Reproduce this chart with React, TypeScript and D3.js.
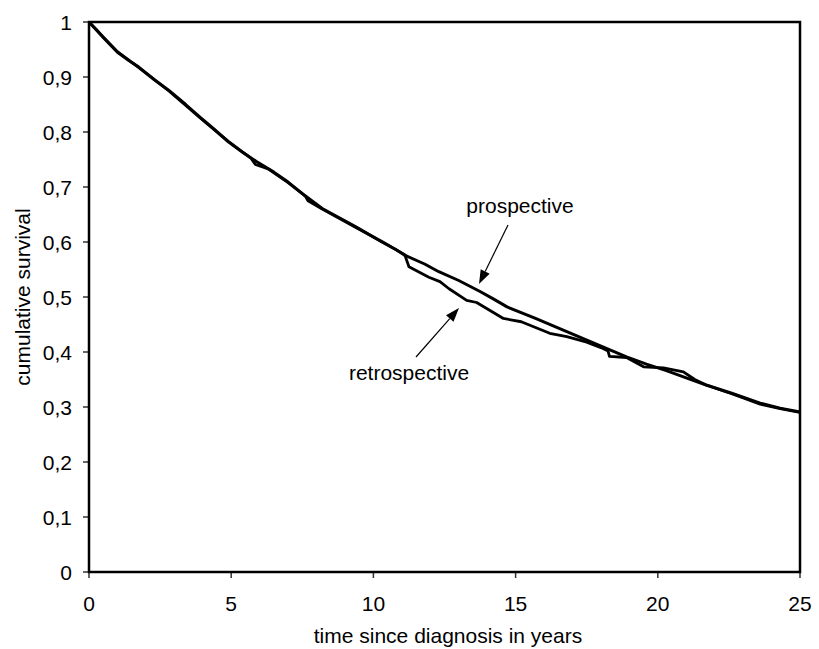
import React from 'react';
import * as d3 from 'd3';

// survival curves (time in years, cumulative survival)
const prospectiveTime = [0, 0.25, 0.5, 1, 1.4, 1.75, 2.3, 2.8, 3.4, 3.9, 4.4, 4.9, 5.4, 5.9, 6.5, 7, 7.6, 8.2, 8.8, 9.4, 10.3, 10.8, 11.1, 11.8, 12.3, 13.0, 13.75, 14.2, 14.7, 15.7, 16.8, 17.9, 18.9, 19.6, 20.3, 21.0, 21.7, 22.6, 23.6, 24.3, 25];
const prospectiveValue = [1, 0.986, 0.972, 0.945, 0.93, 0.918, 0.895, 0.876, 0.85, 0.827, 0.805, 0.782, 0.763, 0.746, 0.727, 0.709, 0.684, 0.661, 0.644, 0.627, 0.6, 0.586, 0.576, 0.56, 0.546, 0.53, 0.51, 0.497, 0.482, 0.461, 0.437, 0.413, 0.391, 0.378, 0.366, 0.353, 0.34, 0.325, 0.307, 0.298, 0.291];

const retrospectiveTime = [0, 0.25, 0.5, 1, 1.75, 2.8, 3.9, 4.9, 5.7, 5.85, 6.3, 7, 7.6, 7.7, 8.2, 9.4, 10.3, 11.1, 11.25, 11.95, 12.34, 12.66, 13.28, 13.63, 14.57, 15.2, 16.2, 16.8, 17.5, 18.0, 18.25, 18.3, 18.9, 19.5, 20.2, 20.9, 21.3, 21.7, 22.6, 23.6, 24.3, 25];
const retrospectiveValue = [1, 0.987, 0.973, 0.946, 0.917, 0.875, 0.826, 0.783, 0.752, 0.741, 0.733, 0.708, 0.684, 0.675, 0.66, 0.626, 0.601, 0.577, 0.555, 0.536, 0.528, 0.515, 0.494, 0.49, 0.461, 0.455, 0.434, 0.428, 0.418, 0.408, 0.402, 0.392, 0.39, 0.373, 0.371, 0.364, 0.35, 0.34, 0.324, 0.305, 0.297, 0.29];

const xTicks = [0, 5, 10, 15, 20, 25];
const yTicks = [0, 0.1, 0.2, 0.3, 0.4, 0.5, 0.6, 0.7, 0.8, 0.9, 1];

const font = "'Liberation Sans', Arial, sans-serif";

export default function App() {
  const width = 819, height = 649;
  const plot = { left: 89, right: 800, top: 22, bottom: 572 };

  const x = d3.scaleLinear().domain([0, 25]).range([plot.left, plot.right]);
  const y = d3.scaleLinear().domain([0, 1]).range([plot.bottom, plot.top]);

  const line = d3.line<[number, number]>()
    .x(d => x(d[0]))
    .y(d => y(d[1]));

  const prospective = prospectiveTime.map((t, i) => [t, prospectiveValue[i]] as [number, number]);
  const retrospective = retrospectiveTime.map((t, i) => [t, retrospectiveValue[i]] as [number, number]);

  const fmt = (v: number) => d3.format('.1~f')(v).replace('.', ',');

  // arrow helper: line from (x1,y1) to tip (x2,y2) with a filled head
  const arrow = (x1: number, y1: number, x2: number, y2: number) => {
    const a = Math.atan2(y2 - y1, x2 - x1);
    const len = 14, w = 5;
    const bx = x2 - len * Math.cos(a), by = y2 - len * Math.sin(a);
    const head = `M${x2},${y2}L${bx + w * Math.sin(a)},${by - w * Math.cos(a)}L${bx - w * Math.sin(a)},${by + w * Math.cos(a)}Z`;
    return (
      <g>
        <line x1={x1} y1={y1} x2={bx} y2={by} stroke="#000" strokeWidth={1.2} />
        <path d={head} fill="#000" />
      </g>
    );
  };

  return (
    <svg width={width} height={height} style={{ position: 'absolute', left: 0, top: 0, background: '#fff' }} fontFamily={font}>
      {/* y ticks */}
      {yTicks.map(t => (
        <g key={'y' + t}>
          <line x1={plot.left - 6} x2={plot.left} y1={y(t)} y2={y(t)} stroke="#333" strokeWidth={1.5} />
          <text x={72} y={y(t)} dy="0.36em" textAnchor="end" fontSize={21}>{fmt(t)}</text>
        </g>
      ))}
      {/* x ticks */}
      {xTicks.map(t => (
        <g key={'x' + t}>
          <line x1={x(t)} x2={x(t)} y1={plot.bottom} y2={plot.bottom + 6} stroke="#333" strokeWidth={1.5} />
          <text x={x(t)} y={611} textAnchor="middle" fontSize={21}>{t}</text>
        </g>
      ))}

      <path d={line(retrospective) || ''} fill="none" stroke="#000" strokeWidth={2.8} strokeLinejoin="round" />
      <path d={line(prospective) || ''} fill="none" stroke="#000" strokeWidth={3} strokeLinejoin="round" />

      <rect x={plot.left} y={plot.top} width={plot.right - plot.left} height={plot.bottom - plot.top} fill="none" stroke="#000" strokeWidth={2.5} />

      <text x={520} y={213} textAnchor="middle" fontSize={21}>prospective</text>
      {arrow(508, 225, 479, 284)}
      <text x={409} y={380} textAnchor="middle" fontSize={21}>retrospective</text>
      {arrow(416, 357, 459, 308)}

      <text x={448} y={643} textAnchor="middle" fontSize={21}>time since diagnosis in years</text>
      <text transform={`translate(30,${(plot.top + plot.bottom) / 2}) rotate(-90)`} textAnchor="middle" fontSize={21}>cumulative survival</text>
    </svg>
  );
}
